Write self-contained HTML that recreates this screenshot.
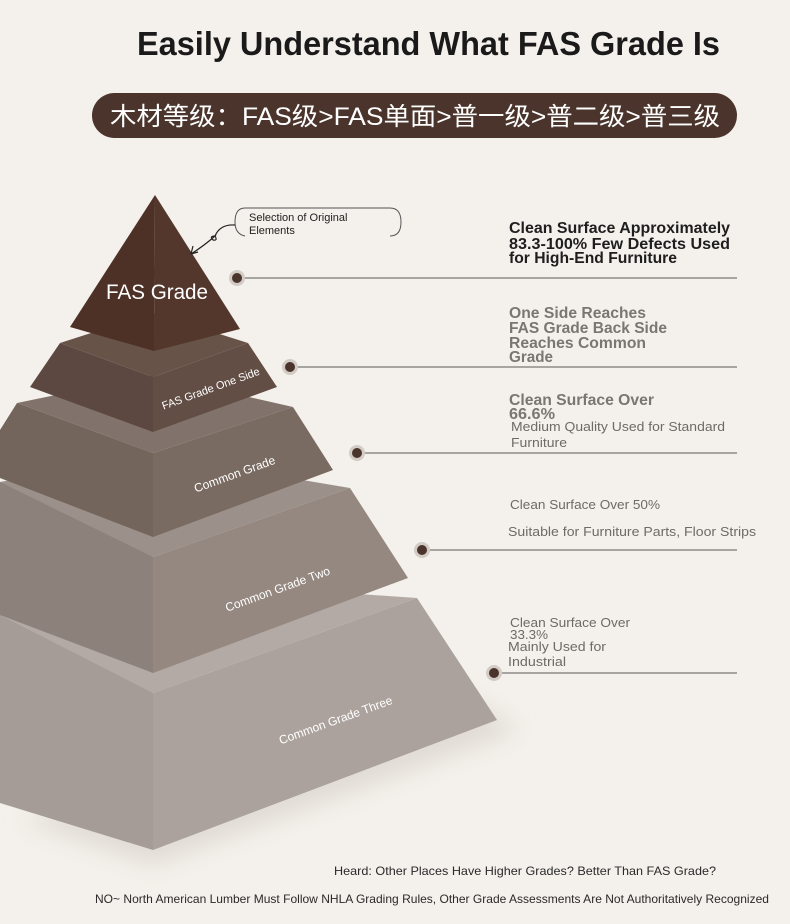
<!DOCTYPE html>
<html><head><meta charset="utf-8"><style>
html,body{margin:0;padding:0;background:#f4f0eb;}
svg{display:block;}
text{font-family:"Liberation Sans","Noto Sans CJK SC",sans-serif;}
</style></head><body>
<svg width="790" height="924" viewBox="0 0 790 924" xmlns="http://www.w3.org/2000/svg">
<defs>
<filter id="blur" x="-50%" y="-50%" width="200%" height="200%"><feGaussianBlur stdDeviation="12"/></filter>
</defs>
<rect width="790" height="924" fill="#f4f0eb"/>
<text x="137" y="55" font-size="33" font-weight="bold" fill="#1a1a1a" textLength="583" lengthAdjust="spacingAndGlyphs">Easily Understand What FAS Grade Is</text>
<rect x="92" y="93" width="645" height="45" rx="22.5" fill="#4a342b"/>
<text x="110" y="125" font-size="25" fill="#fff" textLength="610" lengthAdjust="spacingAndGlyphs">木材等级：FAS级&gt;FAS单面&gt;普一级&gt;普二级&gt;普三级</text>

<polygon points="20,820 153,865 520,730 470,700" fill="#d8d2cc" filter="url(#blur)" opacity="0.7"/>

<polygon points="0,615 153,580 417,598 153,693 0,640" fill="#b3aaa5"/>
<polygon points="0,615 0,803 153,850 153,693" fill="#a69c97"/>
<polygon points="153,693 153,850 497,720 417,598" fill="#aca29d"/>
<polygon points="0,482 153,455 350,488 153,557 0,500" fill="#9b918a"/>
<polygon points="0,482 0,615 153,673 153,557" fill="#8d827b"/>
<polygon points="153,557 153,673 408,578 350,488" fill="#948880"/>
<polygon points="17,403 153,375 293,407 153,453" fill="#81736b"/>
<polygon points="17,403 0,430 0,478 153,537 153,453" fill="#73655c"/>
<polygon points="153,453 153,537 333,470 293,407" fill="#796b62"/>
<polygon points="60,343 153,313 248,343 153,377" fill="#685349"/>
<polygon points="60,343 30,387 153,432 153,377" fill="#5c4840"/>
<polygon points="153,377 153,432 277,387 248,343" fill="#624e45"/>
<polygon points="155,195 70,327 154,351" fill="#4d3127"/>
<polygon points="155,195 240,329 154,351" fill="#53372c"/>

<text x="157" y="299" font-size="21" fill="#fff" text-anchor="middle" textLength="102" lengthAdjust="spacingAndGlyphs">FAS Grade</text>
<text transform="translate(212,392) rotate(-20)" font-size="11" fill="#fff" text-anchor="middle">FAS Grade One Side</text>
<text transform="translate(236,478) rotate(-20)" font-size="12" fill="#fff" text-anchor="middle">Common Grade</text>
<text transform="translate(279,593) rotate(-20)" font-size="12" fill="#fff" text-anchor="middle">Common Grade Two</text>
<text transform="translate(337,724) rotate(-20)" font-size="12" fill="#fff" text-anchor="middle">Common Grade Three</text>

<path d="M245,208 L390,208 Q401,208 401,222 Q401,236 390,236" fill="none" stroke="#555" stroke-width="1"/>
<path d="M245,208 Q235,208 235,222 Q235,234 245,236" fill="none" stroke="#555" stroke-width="1"/>
<text x="249" y="221" font-size="11" fill="#222">Selection of Original</text>
<text x="249" y="234" font-size="11" fill="#222">Elements</text>
<path d="M235,225 Q220,224 215,236 Q218,241 213,240 Q209,236 215,236 Q205,245 191,254" fill="none" stroke="#222" stroke-width="1.2"/>
<path d="M191,254 L193,246 M191,254 L198,252" stroke="#222" stroke-width="1.2" fill="none"/>

<g stroke="#5a5a5a" stroke-width="1">
<line x1="244" y1="278" x2="737" y2="278"/>
<line x1="297" y1="367" x2="737" y2="367"/>
<line x1="364" y1="453" x2="737" y2="453"/>
<line x1="429" y1="550" x2="737" y2="550"/>
<line x1="500" y1="673" x2="737" y2="673"/>
</g>
<g fill="#d3cbc5"><circle cx="237" cy="278" r="8"/><circle cx="290" cy="367" r="8"/><circle cx="357" cy="453" r="8"/><circle cx="422" cy="550" r="8"/><circle cx="494" cy="673" r="8"/></g>
<g fill="#4a342b"><circle cx="237" cy="278" r="5"/><circle cx="290" cy="367" r="5"/><circle cx="357" cy="453" r="5"/><circle cx="422" cy="550" r="5"/><circle cx="494" cy="673" r="5"/></g>

<g font-size="16" font-weight="bold" fill="#1e1e1e">
<text x="509" y="233" textLength="221" lengthAdjust="spacingAndGlyphs">Clean Surface Approximately</text>
<text x="509" y="249" textLength="221" lengthAdjust="spacingAndGlyphs">83.3-100% Few Defects Used</text>
<text x="509" y="263" textLength="168" lengthAdjust="spacingAndGlyphs">for High-End Furniture</text>
</g>
<g font-size="16" font-weight="bold" fill="#7a7672">
<text x="509" y="318" textLength="137" lengthAdjust="spacingAndGlyphs">One Side Reaches</text>
<text x="509" y="333" textLength="158" lengthAdjust="spacingAndGlyphs">FAS Grade Back Side</text>
<text x="509" y="348" textLength="137" lengthAdjust="spacingAndGlyphs">Reaches Common</text>
<text x="509" y="362" textLength="44" lengthAdjust="spacingAndGlyphs">Grade</text>
<text x="509" y="405" textLength="145" lengthAdjust="spacingAndGlyphs">Clean Surface Over</text>
<text x="509" y="419" textLength="46" lengthAdjust="spacingAndGlyphs">66.6%</text>
</g>
<g font-size="13" fill="#6e6a66">
<text x="511" y="431" textLength="214" lengthAdjust="spacingAndGlyphs">Medium Quality Used for Standard</text>
<text x="511" y="447" textLength="56" lengthAdjust="spacingAndGlyphs">Furniture</text>
<text x="510" y="509" textLength="150" lengthAdjust="spacingAndGlyphs">Clean Surface Over 50%</text>
<text x="508" y="536" textLength="248" lengthAdjust="spacingAndGlyphs">Suitable for Furniture Parts, Floor Strips</text>
<text x="510" y="627" textLength="120" lengthAdjust="spacingAndGlyphs">Clean Surface Over</text>
<text x="510" y="639" textLength="38" lengthAdjust="spacingAndGlyphs">33.3%</text>
<text x="508" y="651" textLength="98" lengthAdjust="spacingAndGlyphs">Mainly Used for</text>
<text x="508" y="666" textLength="58" lengthAdjust="spacingAndGlyphs">Industrial</text>
</g>

<text x="334" y="875" font-size="12" fill="#2a2a2a" textLength="382" lengthAdjust="spacingAndGlyphs">Heard: Other Places Have Higher Grades? Better Than FAS Grade?</text>
<text x="95" y="903" font-size="12" fill="#2a2a2a" textLength="674" lengthAdjust="spacingAndGlyphs">NO~ North American Lumber Must Follow NHLA Grading Rules, Other Grade Assessments Are Not Authoritatively Recognized</text>
</svg>
</body></html>
